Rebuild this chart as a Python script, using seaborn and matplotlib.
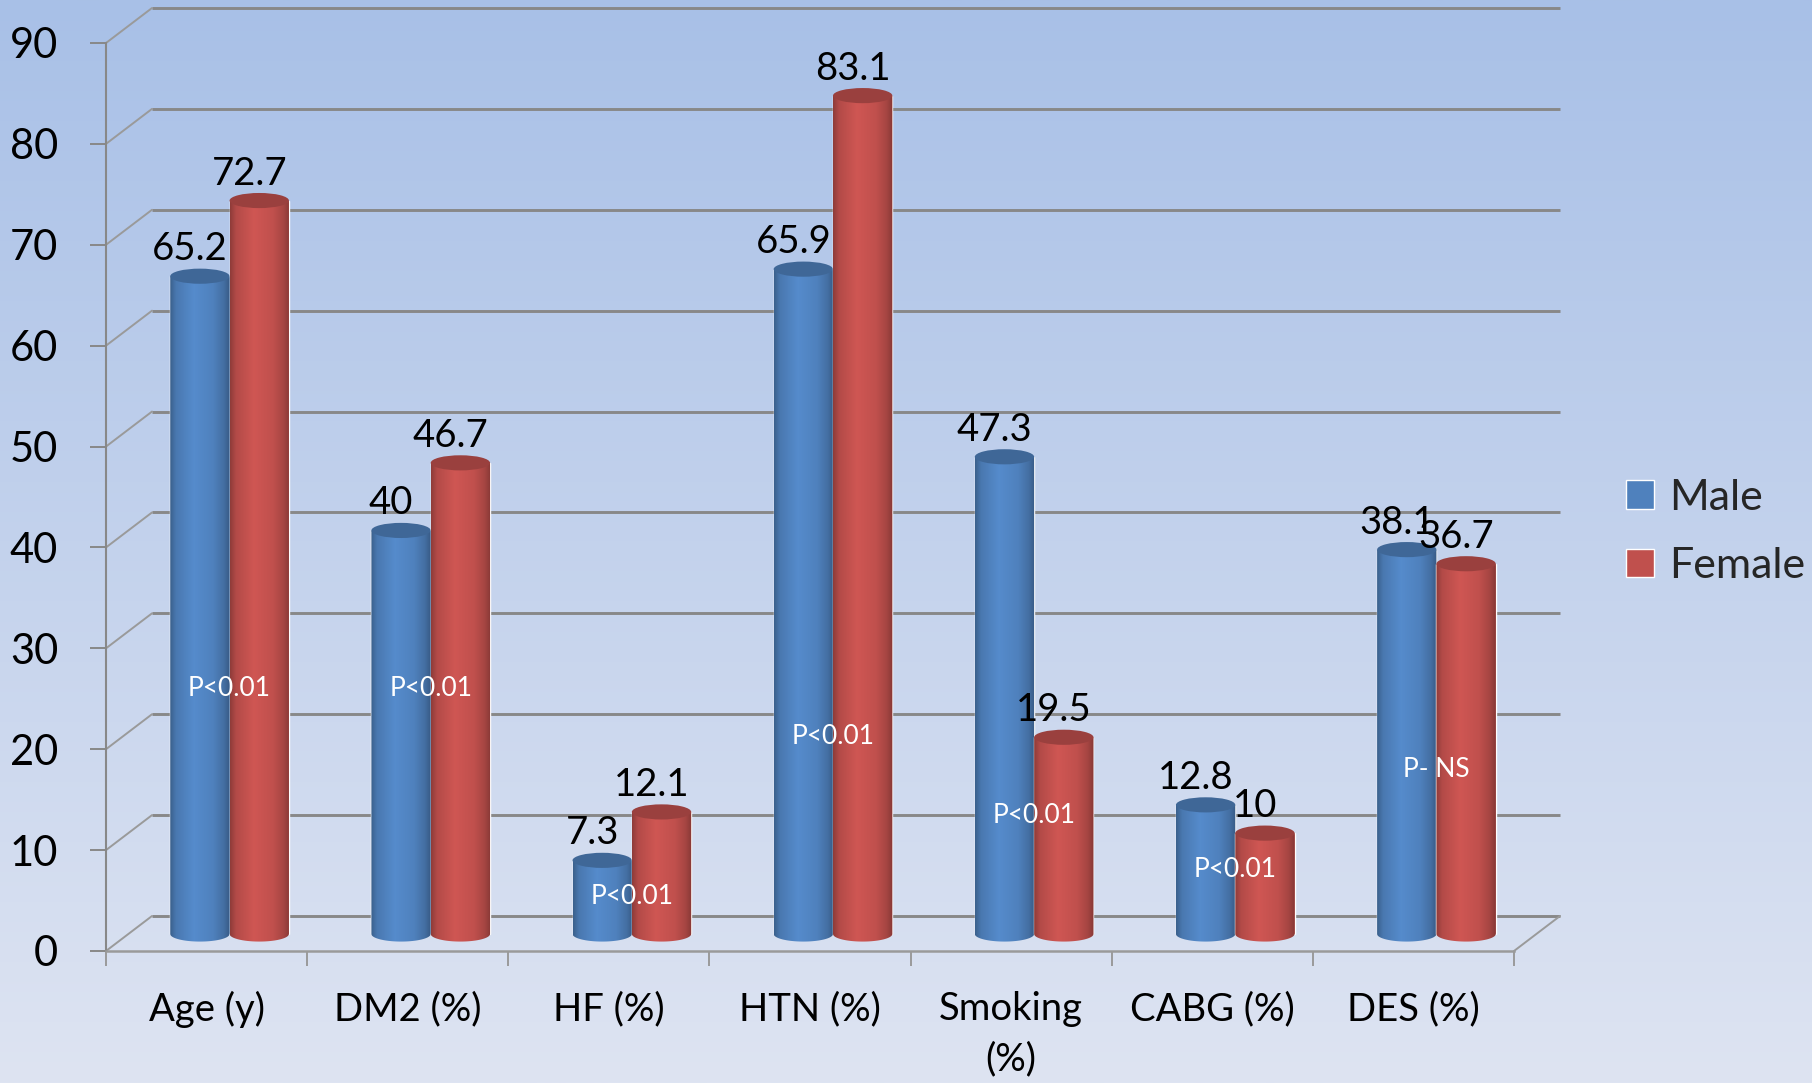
import numpy as np
import pandas as pd
import seaborn as sns
import matplotlib.pyplot as plt
from matplotlib.transforms import ScaledTranslation
from matplotlib.path import Path
from matplotlib.patches import PathPatch, Ellipse, Patch

# ---- data -------------------------------------------------------------
categories = ["Age (y)", "DM2 (%)", "HF (%)", "HTN (%)", "Smoking\n(%)", "CABG (%)", "DES (%)"]
male_values = [65.2, 40, 7.3, 65.9, 47.3, 12.8, 38.1]
female_values = [72.7, 46.7, 12.1, 83.1, 19.5, 10, 36.7]
series = ["Male", "Female"]
p_labels = ["P<0.01", "P<0.01", "P<0.01", "P<0.01", "P<0.01", "P<0.01", "P- NS"]
y_ticks = [0, 10, 20, 30, 40, 50, 60, 70, 80, 90]

# ---- layout ---------------------------------------------------------------
# height (in value units) where each p-value note sits between its cylinders
p_label_heights = [26.0, 26.0, 5.4, 21.3, 13.4, 8.1, 18.0]

W, H, DPI = 1812, 1083, 100
BLUE, RED = "#4F81BD", "#C0504D"
GRID = "#888888"
HALF = (23, 17)    # pixel offset of the bar plane behind the front axis
FULL = (46, 35)    # pixel offset of the back wall
ELLIPSE_H = 1.5    # cylinder cap height, value units

sns.set_theme(style="white")
plt.rcParams["font.family"] = ["Lato", "DejaVu Sans"]

df = pd.DataFrame({
    "category": categories * 2,
    "value": male_values + female_values,
    "sex": [series[0]] * len(categories) + [series[1]] * len(categories),
})

fig = plt.figure(figsize=(W / DPI, H / DPI), dpi=DPI)

# soft vertical background gradient
bg = fig.add_axes([0, 0, 1, 1], zorder=-10)
t = np.linspace(0, 1, 512)[:, None, None]
c_top = np.array([168, 192, 231]) / 255
c_bot = np.array([222, 228, 242]) / 255
bg.imshow(c_top * (1 - t) + c_bot * t, aspect="auto", extent=[0, 1, 0, 1])
bg.set_axis_off()

ax = fig.add_axes([106 / W, 1 - 951 / H, (1514 - 106) / W, (951 - 43) / H])
ax.patch.set_alpha(0)

sns.barplot(data=df, x="category", y="value", hue="sex", hue_order=series,
            palette=[BLUE, RED], width=0.59, saturation=1, errorbar=None,
            legend=False, ax=ax, zorder=3)

xmin, xmax = -0.5, len(categories) - 0.5
ax.set_xlim(xmin, xmax)
ax.set_ylim(0, 90)


def offset_tr(dx, dy):
    return ax.transData + ScaledTranslation(dx / DPI, dy / DPI, fig.dpi_scale_trans)


def shifted(x, y, dx, dy):
    p = ax.transData.transform((x, y))
    return ax.transData.inverted().transform(p + np.array([dx, dy]))


half_tr = offset_tr(*HALF)
full_tr = offset_tr(*FULL)

# back wall gridlines and the diagonal edges of the side wall / floor
ax.hlines(y_ticks, xmin, xmax, colors=GRID, lw=2.1, transform=full_tr,
          zorder=1, clip_on=False)
for v in y_ticks:
    x1, y1 = shifted(xmin, v, *FULL)
    ax.plot([xmin, x1], [v, y1], color="#9a9a9a", lw=1.4, zorder=1, clip_on=False)
x1, y1 = shifted(xmax, 0, *FULL)
ax.plot([xmax, x1], [0, y1], color="#9a9a9a", lw=1.4, zorder=1, clip_on=False)

# turn the flat bars into shaded cylinders
stops = [0.0, 0.1, 0.4, 0.72, 0.9, 1.0]
shade = [0.74, 0.93, 1.08, 1.0, 0.86, 0.70]
bars = list(ax.patches)
for k, bar in enumerate(bars):
    x0, w, h = bar.get_x(), bar.get_width(), bar.get_height()
    base = np.array(bar.get_facecolor()[:3])
    z = 3 + k * 0.01
    bar.set_transform(half_tr)
    bar.set_zorder(z)
    xc = x0 + w / 2
    th = np.linspace(np.pi, 2 * np.pi, 60)
    arc = np.column_stack([xc + w / 2 * np.cos(th), ELLIPSE_H / 2 * np.sin(th)])
    verts = np.vstack([[x0, h], arc, [x0 + w, h], [x0, h]])
    outline = PathPatch(Path(verts, closed=True), transform=half_tr,
                        facecolor="none", edgecolor="none")
    prof = np.interp(np.linspace(0, 1, 200), stops, shade)
    img = np.clip(base[None, None, :] * prof[None, :, None], 0, 1)
    im = ax.imshow(img, extent=[x0, x0 + w, -ELLIPSE_H / 2, h], aspect="auto",
                   transform=half_tr, zorder=z + 0.001, interpolation="bilinear")
    im.set_clip_path(outline)
    ax.add_patch(Ellipse((xc, h), w, ELLIPSE_H, transform=half_tr,
                         facecolor=base * 0.8, edgecolor="none", zorder=z + 0.002))
    ax.annotate(f"{h:g}", (xc, h), xytext=(13 * 0.72, 33 * 0.72),
                textcoords="offset points", ha="center", va="baseline",
                fontsize=27.5, color="black", zorder=6)

for i, (txt, yv) in enumerate(zip(p_labels, p_label_heights)):
    ax.annotate(txt, (i, yv), xytext=(HALF[0] * 0.72, 0), textcoords="offset points",
                ha="center", va="center", color="white", fontsize=19, zorder=7)

ax.set_xlim(xmin, xmax)
ax.set_ylim(0, 90)

# axes, ticks and labels
ax.set_xlabel("")
ax.set_ylabel("")
ax.set_yticks(y_ticks)
ax.tick_params(axis="y", left=True, length=11.5, width=1.4, color=GRID,
               pad=23, labelsize=30, labelcolor="black", direction="out")
ax.set_xticks(range(len(categories)))
ax.set_xticklabels(categories)
ax.set_xticks(np.arange(xmin, xmax + 0.01, 1), minor=True)
ax.tick_params(axis="x", which="major", bottom=True, length=0, pad=29,
               labelsize=27.5, labelcolor="black")
ax.tick_params(axis="x", which="minor", bottom=True, length=11, width=1.4,
               color="#9a9a9a", direction="out")
for lab in ax.get_xticklabels():
    lab.set_linespacing(1.5)
for side in ["top", "right"]:
    ax.spines[side].set_visible(False)
ax.spines["left"].set_color(GRID)
ax.spines["left"].set_linewidth(1.5)
ax.spines["bottom"].set_color("#9a9a9a")
ax.spines["bottom"].set_linewidth(1.8)

handles = [Patch(facecolor=BLUE), Patch(facecolor=RED)]
fig.legend(handles, series, loc="center left", bbox_to_anchor=(1626 / W, 1 - 532 / H),
           frameon=False, fontsize=31, handlelength=0.65, handleheight=0.65,
           handletextpad=0.35, labelspacing=0.7, borderaxespad=0, borderpad=0)

fig.savefig("out.png", dpi=DPI)
